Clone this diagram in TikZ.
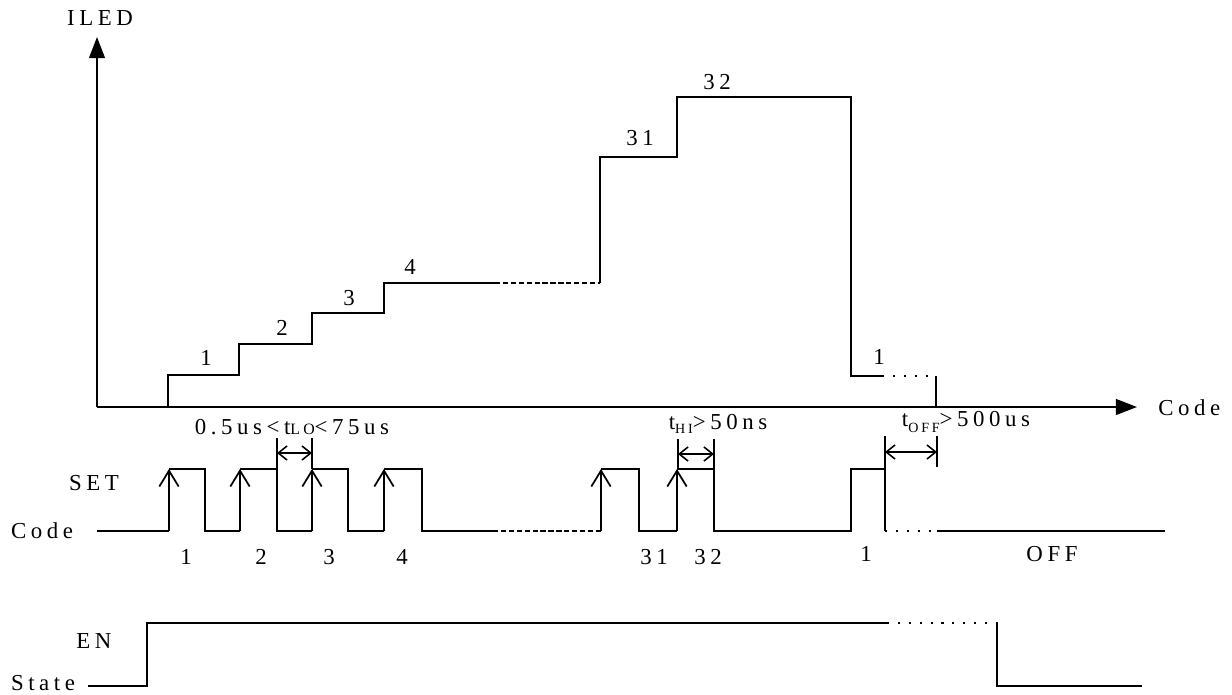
\documentclass[tikz,border=0pt]{standalone}
\usepackage{fontspec}
\setmainfont{Liberation Serif}[LetterSpace=20]
\usetikzlibrary{arrows.meta}

\begin{document}
\begin{tikzpicture}[x=0.02cm, y=-0.02cm,
  wave/.style={line width=1pt},
  axis/.style={line width=1pt, -{Triangle[length=12pt, width=9pt]}},
  edge/.style={line width=1pt, -{Straight Barb[length=9pt, width=11pt]}},
  tick/.style={line width=0.9pt},
  dim/.style={line width=0.9pt,
              {Straight Barb[length=5pt, width=8pt]}-{Straight Barb[length=5pt, width=8pt]}},
  gap/.style={line width=1pt, dash pattern=on 3pt off 1.5pt},
  dots/.style={line width=1pt, dash pattern=on 1.2pt off 5pt},
  lbl/.style={font=\fontsize{13}{15}\selectfont, inner sep=0pt}
]
\useasboundingbox (0,0) rectangle (1232,694);

%% Axes
\coordinate (orig) at (97,407);
\coordinate (ytop) at (97,37);
\coordinate (xend) at (1137,407);
\draw[axis] (orig) -- (ytop);
\draw[axis] (orig) -- (xend);
\node[lbl] (ylab) at (100,18) {ILED};
\node[lbl, anchor=west] (xlab) at (1158,408) {Code};

%% ILED staircase
\draw[wave] (168,407) |- (239,375) |- (312,344) |- (384,313) |- (495,283);
\draw[gap]  (495,283) -- (600,283);
\draw[wave] (600,283) |- (677,157) |- (851,97) -- (851,376) -- (882,376);
\draw[dots] (882,376) -- (936,376);
\draw[wave] (936,376) -- (936,407);

%% Step labels
\node[lbl] (s1)  at (206,358) {1};
\node[lbl] (s2)  at (282,328) {2};
\node[lbl] (s3)  at (349,298) {3};
\node[lbl] (s4)  at (410,267) {4};
\node[lbl] (s31) at (640,138) {31};
\node[lbl] (s32) at (717,82)  {32};
\node[lbl] (s1b) at (879,357) {1};

%% SET / Code waveform
\node[lbl] (setlab)  at (94,483) {SET};
\node[lbl] (codelab) at (42,531) {Code};
\draw[wave] (97,531) -- (169,531);
\draw[edge] (169,531) -- (169,469);
\draw[wave] (169,469) -| (205,531) -- (240,531);
\draw[edge] (240,531) -- (240,469);
\draw[wave] (240,469) -| (277,531) -- (312,531);
\draw[edge] (312,531) -- (312,469);
\draw[wave] (312,469) -| (348,531) -- (384,531);
\draw[edge] (384,531) -- (384,469);
\draw[wave] (384,469) -| (422,531) -- (493,531);
\draw[gap]  (493,531) -- (601,531);
\draw[edge] (601,531) -- (601,469);
\draw[wave] (601,469) -| (639,531) -- (677,531);
\draw[edge] (677,531) -- (677,469);
\draw[wave] (677,469) -| (714,531) -- (851,531) |- (885,469) -- (885,531);
\draw[dots] (885,531) -- (937,531);
\draw[wave] (937,531) -- (1165,531);

%% Pulse labels
\node[lbl] (p1)   at (186,557) {1};
\node[lbl] (p2)   at (261,557) {2};
\node[lbl] (p3)   at (329,557) {3};
\node[lbl] (p4)   at (402,557) {4};
\node[lbl] (p31)  at (654,557) {31};
\node[lbl] (p32)  at (708,557) {32};
\node[lbl] (p1b)  at (866,554) {1};
\node[lbl] (poff) at (1052,554) {OFF};

%% tLO
\coordinate (lo1) at (277,438);
\coordinate (lo2) at (312,438);
\draw[tick] (lo1) -- (277,469);
\draw[tick] (lo2) -- (312,469);
\draw[dim] (277,453) -- (312,453);
\node[lbl] (tlo) at (292,427) {0.5us<t{\fontsize{9}{10}\selectfont LO}<75us};

%% tHI
\coordinate (hi1) at (678,439);
\coordinate (hi2) at (714,439);
\draw[tick] (hi1) -- (678,469);
\draw[tick] (hi2) -- (714,469);
\draw[dim] (678,454) -- (714,454);
\node[lbl] (thi) at (718,424) {t\raisebox{-0.35ex}{\fontsize{8}{9}\selectfont HI}>50ns};

%% tOFF
\coordinate (off1) at (885,436);
\coordinate (off2) at (937,436);
\draw[tick] (off1) -- (885,469);
\draw[tick] (off2) -- (937,467);
\draw[dim] (885,452) -- (937,452);
\node[lbl] (toff) at (966,422) {t\raisebox{-0.5ex}{\fontsize{8}{9}\selectfont OFF}>500us};

%% EN / State waveform
\node[lbl] (enlab)    at (94,641) {EN};
\node[lbl] (statelab) at (43,683) {State};
\draw[wave] (88,686) -| (147,623) -- (887,623);
\draw[dots] (887,623) -- (1002,623);
\draw[wave] (997,623) |- (1142,686);

\end{tikzpicture}
\end{document}
